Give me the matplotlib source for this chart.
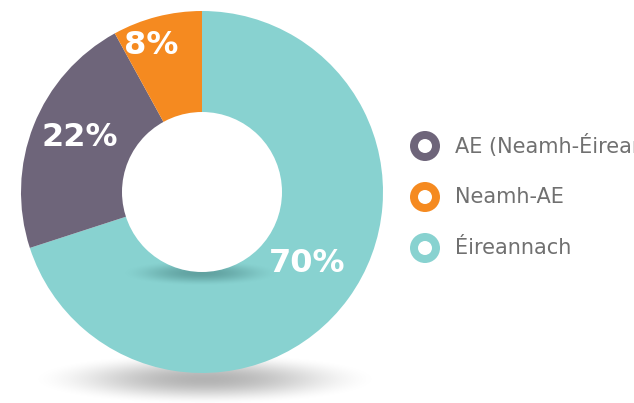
import numpy as np
import matplotlib
matplotlib.use("Agg")
import matplotlib.pyplot as plt
from matplotlib.patches import Circle

# ---- data ----
categories = ["Éireannach", "AE (Neamh-Éireannach)", "Neamh-AE"]
values = [70, 22, 8]
colors = ["#88d2d0", "#6e657a", "#f58a20"]
pct_labels = ["70%", "22%", "8%"]
legend_order = ["AE (Neamh-Éireannach)", "Neamh-AE", "Éireannach"]

W, H = 634, 403
fig = plt.figure(figsize=(W / 100, H / 100), dpi=100)
ax = fig.add_axes([0, 0, 1, 1])
ax.set_xlim(0, W)
ax.set_ylim(0, H)
ax.set_aspect("equal")
ax.axis("off")

cx, cy = 202, H - 192
R, r_in = 181, 80


def shadow(xc, yc, a, b, alpha_max, zorder, rgb=(0, 0, 0), power=1.6):
    x0, x1 = xc - a, xc + a
    y0, y1 = yc - b, yc + b
    nx, ny = 400, 120
    xs = np.linspace(-1, 1, nx)
    ys = np.linspace(-1, 1, ny)
    X, Y = np.meshgrid(xs, ys)
    d = np.sqrt(X ** 2 + Y ** 2)
    al = np.clip(1 - d ** 2, 0, 1) ** power * alpha_max
    img = np.zeros((ny, nx, 4))
    img[..., 0], img[..., 1], img[..., 2] = rgb
    img[..., 3] = al
    ax.imshow(img, extent=(x0, x1, y0, y1), origin="lower", zorder=zorder,
              interpolation="bilinear")


# bottom shadow
shadow(205, H - 379, 180, 27, 0.30, 0, power=2.2)

# donut
wedges, _ = ax.pie(values, colors=colors, startangle=90, counterclock=False,
                   center=(cx, cy), radius=R, frame=True,
                   wedgeprops=dict(linewidth=0))
for w in wedges:
    w.set_zorder(1)

# inner shadow below the hole
shadow(201, H - 273, 80, 13, 0.40, 2, rgb=(0.15, 0.35, 0.35), power=2.0)

# hole
ax.add_patch(Circle((cx, cy), r_in, color="white", zorder=3, lw=0))
ax.set_xlim(0, W)
ax.set_ylim(0, H)
ax.axis("off")

# percentage labels (pixel positions)
label_pos = {"70%": (307, 263), "22%": (80, 137), "8%": (151, 45)}
for lab in pct_labels:
    x, y = label_pos[lab]
    ax.text(x, H - y, lab, color="white", fontsize=23, fontweight="bold",
            ha="center", va="center", zorder=5, family="DejaVu Sans")

# legend
leg_y = [146, 197, 248]
for name, y in zip(legend_order, leg_y):
    c = colors[categories.index(name)]
    ax.add_patch(Circle((425, H - y), 15, color=c, lw=0, zorder=5))
    ax.add_patch(Circle((425, H - y), 7, color="white", lw=0, zorder=6))
    ax.text(455, H - y, name, color="#707070", fontsize=15, ha="left",
            va="center", zorder=5, family="DejaVu Sans", clip_on=False)

fig.savefig("out.png", dpi=100)
